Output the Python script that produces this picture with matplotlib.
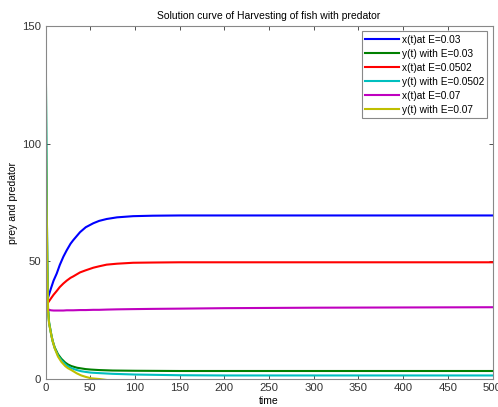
import numpy as np
import matplotlib
matplotlib.use("Agg")
import matplotlib.pyplot as plt

# prey curves x(t)
t_x = [0, 2, 4, 6, 9, 12.5, 16, 20, 23.7, 28, 31, 38.6, 45, 53.5, 60, 68.4, 80, 98, 120, 150, 200, 300, 400, 500]
x_003 = [31.4, 33.6, 36.0, 38.4, 41.8, 44.8, 48.5, 52.0, 54.7, 57.5, 59.0, 62.4, 64.5, 66.2, 67.2, 68.0, 68.7, 69.2, 69.4, 69.5, 69.5, 69.5, 69.5, 69.5]
x_0502 = [31.0, 32.0, 33.1, 34.2, 35.8, 37.4, 39.1, 40.6, 41.8, 43.0, 43.6, 45.3, 46.2, 47.3, 47.9, 48.6, 49.0, 49.4, 49.5, 49.6, 49.6, 49.6, 49.6, 49.6]
x_007 = [30.0, 29.6, 29.4, 29.2, 29.1, 29.1, 29.1, 29.1, 29.2, 29.2, 29.2, 29.3, 29.3, 29.4, 29.4, 29.5, 29.6, 29.7, 29.8, 29.9, 30.1, 30.3, 30.4, 30.5]

# predator curves y(t)
t_y = [0, 1, 2, 2.8, 4, 6.5, 8, 10.3, 14, 17.7, 22, 25, 28.9, 35, 40, 45, 51, 60, 75, 100, 150, 200, 300, 400, 500]
y_003 = [160, 90, 50, 30.0, 24.0, 18.8, 16.2, 13.4, 10.5, 8.6, 7.0, 6.2, 5.5, 4.8, 4.5, 4.2, 4.0, 3.8, 3.6, 3.5, 3.4, 3.4, 3.4, 3.4, 3.4]
y_0502 = [160, 90, 50, 29.8, 23.8, 18.6, 16.0, 13.1, 10.0, 8.0, 6.3, 5.4, 4.6, 3.8, 3.3, 3.0, 2.7, 2.5, 2.2, 1.9, 1.6, 1.5, 1.5, 1.5, 1.5]
t_y7 = [0, 1, 2, 2.8, 4, 6.5, 8, 10.3, 14, 17.7, 22, 25, 28.9, 35, 40, 45, 51, 60, 70]
y_007 = [118, 80, 48, 29.0, 23.5, 18.6, 16.0, 13.0, 9.5, 7.3, 5.5, 4.6, 3.8, 2.4, 1.5, 0.9, 0.3, 0.0, -0.5]

series = [
    (t_x, x_003, (0, 0, 1), "x(t)at E=0.03"),
    (t_y, y_003, (0, 0.5, 0), "y(t) with E=0.03"),
    (t_x, x_0502, (1, 0, 0), "x(t)at E=0.0502"),
    (t_y, y_0502, (0, 0.75, 0.75), "y(t) with E=0.0502"),
    (t_x, x_007, (0.75, 0, 0.75), "x(t)at E=0.07"),
    (t_y7, y_007, (0.75, 0.75, 0), "y(t) with E=0.07"),
]

plt.rcParams['font.family'] = ['Liberation Sans', 'DejaVu Sans']

fig = plt.figure(figsize=(4.98, 4.07), dpi=100)
ax = fig.add_axes([0.0914, 0.0688, 0.8976, 0.8672])

for t, v, c, lab in series:
    ax.plot(t, v, color=c, lw=1.5, label=lab)

ax.set_xlim(0, 500)
ax.set_ylim(0, 150)
ax.set_xticks(np.arange(0, 501, 50))
ax.set_yticks([0, 50, 100, 150])
ax.tick_params(direction='in', top=True, right=True, labelsize=8.2,
               colors='#333333', length=3, width=0.6, pad=3)
for s in ax.spines.values():
    s.set_color('#888888')
    s.set_linewidth(0.8)

ax.set_title("Solution curve of Harvesting of fish with predator", fontsize=7.5, pad=5)
ax.set_xlabel("time", fontsize=7.5, labelpad=2)
ax.set_ylabel("prey and predator", fontsize=7.5, labelpad=3)

leg = ax.legend(loc='upper right', fontsize=7.3, fancybox=False, framealpha=1,
                edgecolor='#888888', handlelength=3.3, handletextpad=0.3,
                labelspacing=0.4, borderpad=0.35, borderaxespad=0.5)
leg.get_frame().set_linewidth(0.8)

fig.savefig("out.png", dpi=100)
